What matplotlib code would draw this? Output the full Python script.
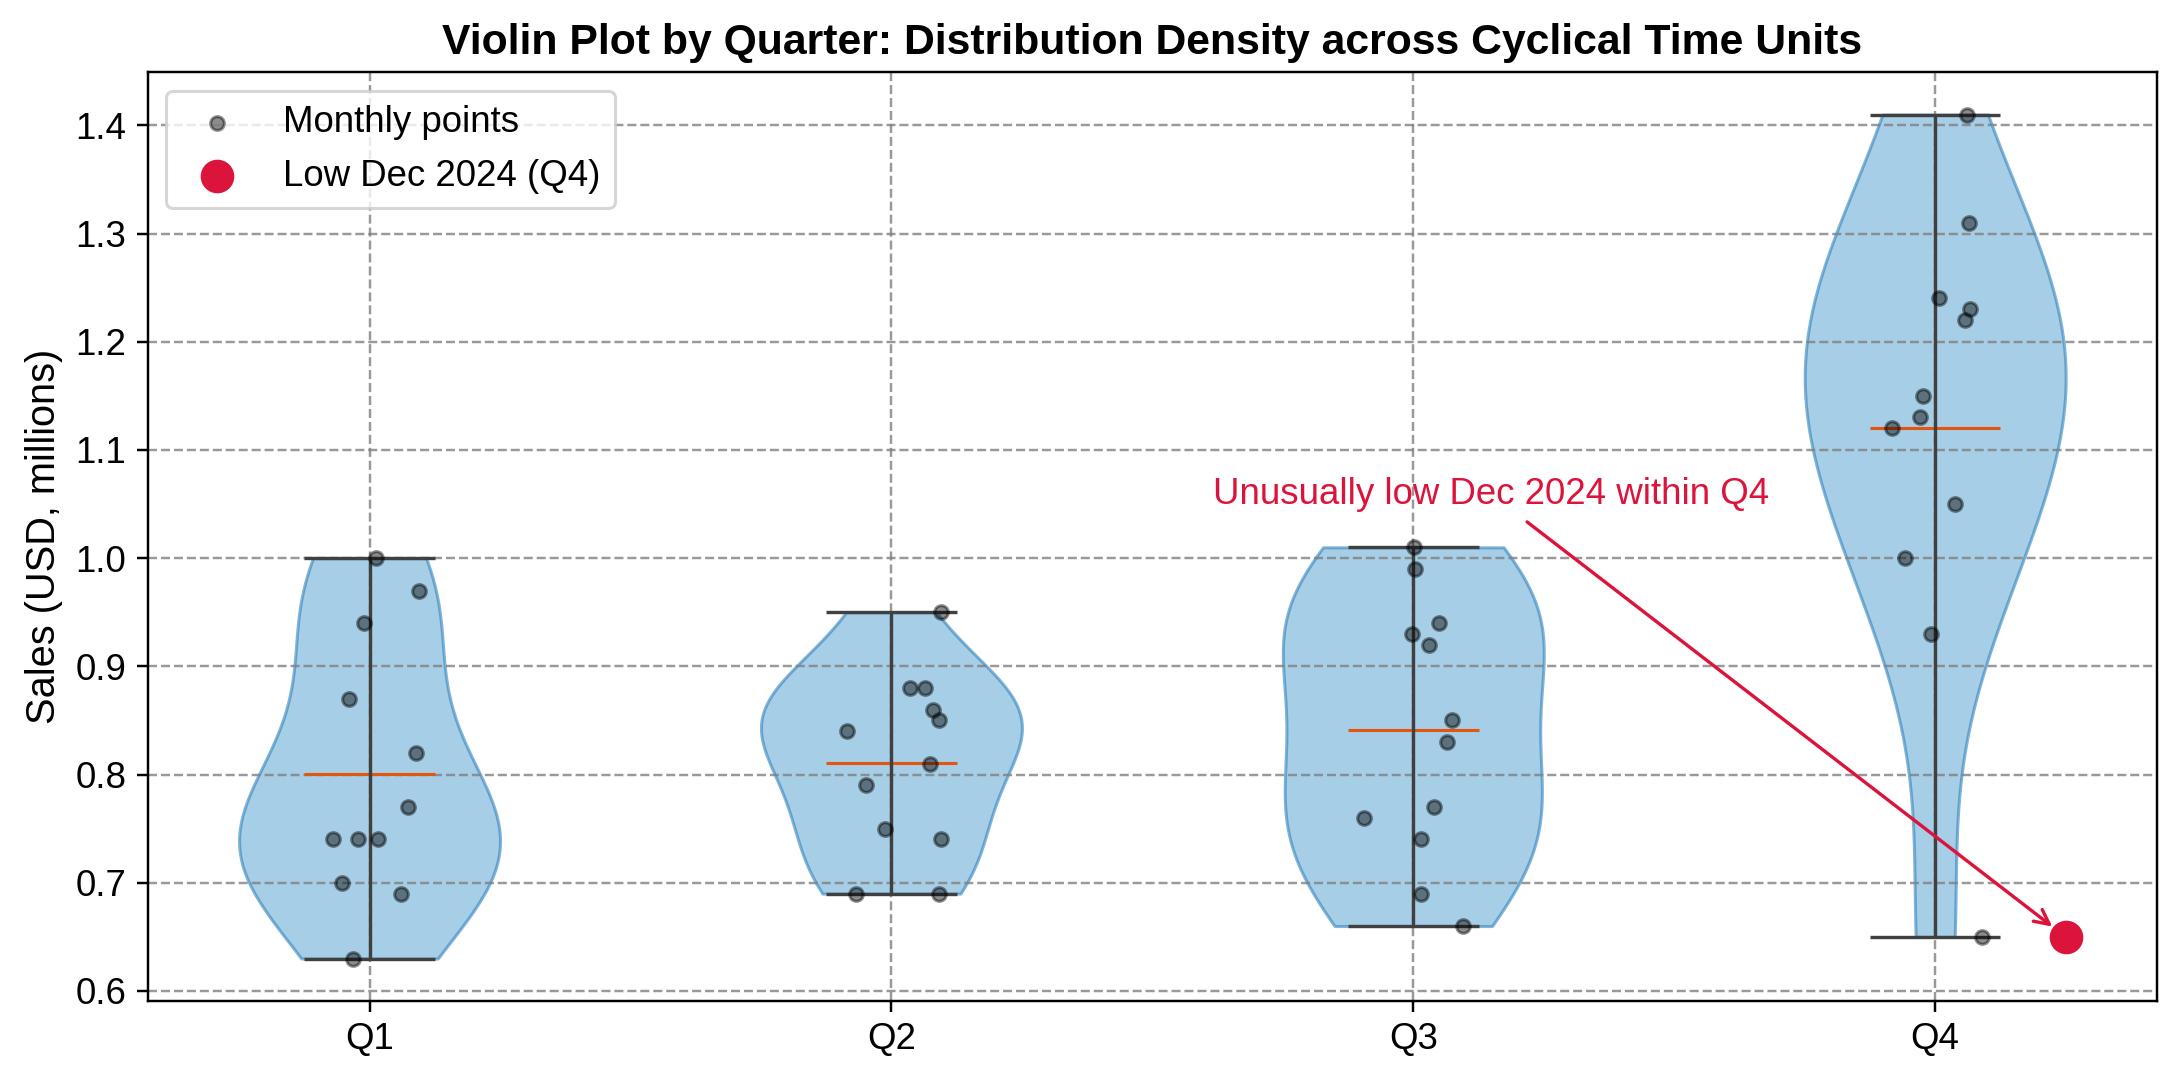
import matplotlib.pyplot as plt
import numpy as np

plt.rcParams['font.family'] = ['Liberation Sans', 'DejaVu Sans']

# Monthly sales (USD, millions) grouped by quarter
quarters = ['Q1', 'Q2', 'Q3', 'Q4']
q1_sales = [1.00, 0.97, 0.94, 0.87, 0.82, 0.77, 0.74, 0.74, 0.74, 0.70, 0.69, 0.63]
q2_sales = [0.95, 0.88, 0.88, 0.86, 0.85, 0.84, 0.81, 0.79, 0.75, 0.74, 0.69, 0.69]
q3_sales = [1.01, 0.99, 0.94, 0.93, 0.92, 0.85, 0.83, 0.77, 0.76, 0.74, 0.69, 0.66]
q4_sales = [1.41, 1.31, 1.24, 1.23, 1.22, 1.15, 1.13, 1.12, 1.05, 1.00, 0.93, 0.65]

# horizontal jitter of each monthly point (as seen in the chart)
q1_jitter = [0.013, 0.095, -0.011, -0.040, 0.089, 0.074, -0.070, -0.022, 0.016, -0.053, 0.060, -0.032]
q2_jitter = [0.095, 0.036, 0.065, 0.079, 0.091, -0.085, 0.074, -0.049, -0.013, 0.095, -0.068, 0.091]
q3_jitter = [0.002, 0.004, 0.050, -0.002, 0.031, 0.075, 0.065, 0.040, -0.094, 0.014, 0.014, 0.096]
q4_jitter = [0.061, 0.065, 0.008, 0.066, 0.058, -0.023, -0.029, -0.082, 0.038, -0.058, -0.008, 0.090]

# highlighted low month
low_value = 0.65
low_offset = 0.25

data = [q1_sales, q2_sales, q3_sales, q4_sales]
jitters = [q1_jitter, q2_jitter, q3_jitter, q4_jitter]
positions = np.arange(1, len(quarters) + 1)

fig, ax = plt.subplots(figsize=(2179 / 220, 1078 / 220), dpi=220)
fig.subplots_adjust(left=0.0678, right=0.9899, top=0.9329, bottom=0.0717)

parts = ax.violinplot(data, positions=positions, widths=0.5, showmeans=True, showextrema=True)
for body in parts['bodies']:
    body.set_facecolor('#6baed6')
    body.set_edgecolor('#3182bd')
    body.set_linewidth(1.0)
    body.set_alpha(0.6)
for key in ['cbars', 'cmins', 'cmaxes']:
    parts[key].set_color('#404040')
    parts[key].set_linewidth(1.1)
parts['cmeans'].set_color('#e6550d')
parts['cmeans'].set_linewidth(1.0)

# Monthly points
for i, (vals, jit) in enumerate(zip(data, jitters)):
    ax.scatter(positions[i] + np.array(jit), vals, s=20, color='black', alpha=0.45,
               zorder=3, label='Monthly points' if i == 0 else None)

ax.scatter(positions[3] + low_offset, low_value, s=100, color='crimson', zorder=4,
           label='Low Dec 2024 (Q4)')

ax.annotate('Unusually low Dec 2024 within Q4', xy=(positions[3] + low_offset, low_value),
            xytext=(3.15, 1.05), ha='center', color='crimson', fontsize=12,
            arrowprops=dict(arrowstyle='->', color='crimson', lw=1.1, shrinkB=5.5))

ax.set_xticks(positions)
ax.set_xticklabels(quarters, fontsize=12)
ax.tick_params(axis='y', labelsize=12)
ax.set_xlim(0.575, 4.425)
ax.set_ylabel('Sales (USD, millions)', fontsize=13)
ax.set_title('Violin Plot by Quarter: Distribution Density across Cyclical Time Units',
             fontsize=14, fontweight='bold')
ax.grid(True, linestyle='--', color='gray', linewidth=0.8, alpha=0.8)
ax.legend(loc='upper left', fontsize=12)

plt.savefig('out.png', dpi=220)
